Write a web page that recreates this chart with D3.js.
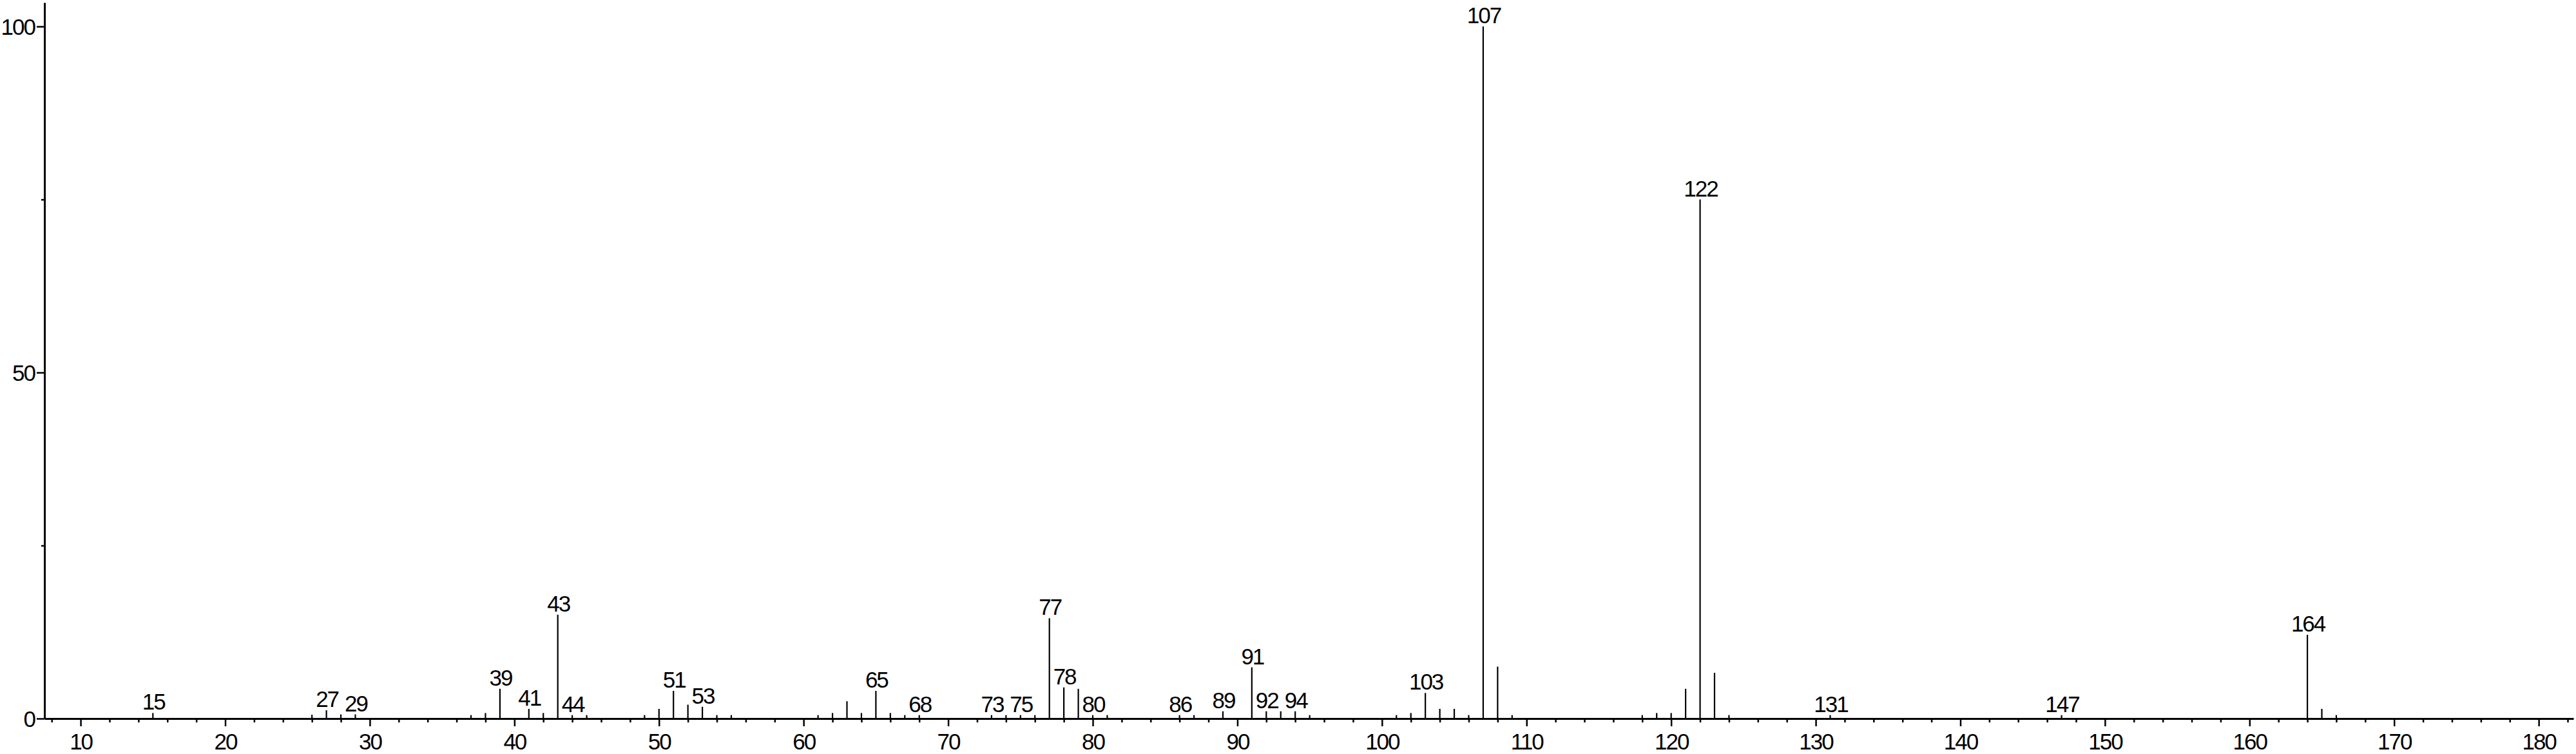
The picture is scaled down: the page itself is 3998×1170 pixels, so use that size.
<!DOCTYPE html>
<html>
<head>
<meta charset="utf-8">
<script src="https://cdn.jsdelivr.net/npm/d3@7"></script>
<style>
  body { margin: 0; background: #fff; }
  svg text { font-family: "Liberation Sans", Arial, sans-serif; font-size: 35px; letter-spacing: -2px; fill: #000; }
</style>
</head>
<body>
<script>
// m/z of each peak and its relative intensity (%)
const mz = [15, 26, 27, 28, 29, 37, 38, 39, 41, 42, 43, 44, 45, 49, 50, 51, 52, 53, 54, 55,
  61, 62, 63, 64, 65, 66, 67, 68, 73, 74, 75, 76, 77, 78, 79, 80, 81, 86, 87, 89,
  91, 92, 93, 94, 95, 101, 102, 103, 104, 105, 106, 107, 108, 109, 118, 119, 120, 121, 122, 123,
  124, 131, 147, 164, 165, 166];
const intensity = [0.8, 0.55, 1.2, 0.6, 0.6, 0.5, 0.8, 4.3, 1.4, 0.8, 15.0, 0.5, 0.5, 0.5, 1.4, 4.0, 2.0, 1.7, 0.5, 0.5,
  0.5, 0.8, 2.5, 0.8, 4.0, 0.8, 0.5, 0.5, 0.5, 0.5, 0.5, 0.5, 14.5, 4.5, 4.3, 0.5, 0.5, 0.5, 0.5, 1.05,
  7.4, 1.05, 1.05, 1.05, 0.5, 0.5, 0.8, 3.7, 1.4, 1.4, 0.5, 100, 7.5, 0.5, 0.5, 0.8, 0.8, 4.3, 75, 6.6,
  0.5, 0.5, 0.5, 12.1, 1.4, 0.5];
// peaks that carry a label
const labelled = [15, 27, 29, 39, 41, 43, 44, 51, 53, 65, 68, 73, 75, 77, 78, 80, 86, 89, 91, 92, 94,
  103, 107, 122, 131, 147, 164];

const xMajor = d3.range(10, 181, 10);
const xMinor = d3.range(8, 183, 2).filter(d => d % 10 !== 0);
const yMajor = [0, 50, 100];
const yMinor = [25, 75];

const width = 3998, height = 1170;

const peaks = mz.map((m, i) => ({ mz: m, val: intensity[i] }));

const x = d3.scaleLinear().domain([7.5, 182.4]).range([69, 3994]);
const y = d3.scaleLinear().domain([0, 103.45]).range([1115, 4]);

const svg = d3.select('body').append('svg')
  .attr('width', width)
  .attr('height', height);

// x axis: minor ticks first, then the major ones with labels
svg.append('g')
  .attr('transform', `translate(0,${y(0)})`)
  .call(d3.axisBottom(x).tickValues(xMinor).tickSize(6).tickSizeOuter(0).tickFormat(''))
  .call(g => g.select('.domain').remove())
  .call(g => g.selectAll('line').attr('stroke-width', 2.5));

svg.append('g')
  .attr('transform', `translate(0,${y(0)})`)
  .call(d3.axisBottom(x).tickValues(xMajor).tickSize(12).tickSizeOuter(0).tickPadding(11))
  .call(g => g.select('.domain').attr('stroke-width', 3))
  .call(g => g.selectAll('line').attr('stroke-width', 2.5))
  .call(g => g.selectAll('text').attr('font-size', null));

// y axis
svg.append('g')
  .attr('transform', `translate(${x.range()[0]},0)`)
  .call(d3.axisLeft(y).tickValues(yMinor).tickSize(5).tickSizeOuter(0).tickFormat(''))
  .call(g => g.select('.domain').remove())
  .call(g => g.selectAll('line').attr('stroke-width', 2.5));

svg.append('g')
  .attr('transform', `translate(${x.range()[0]},0)`)
  .call(d3.axisLeft(y).tickValues(yMajor).tickSize(12).tickSizeOuter(0).tickPadding(3))
  .call(g => g.select('.domain').attr('stroke-width', 3))
  .call(g => g.selectAll('line').attr('stroke-width', 2.5))
  .call(g => g.selectAll('text').attr('font-size', null).attr('dy', '0.36em'));

svg.selectAll('.tick text').attr('font-family', null);

// stick spectrum
svg.append('g')
  .selectAll('line')
  .data(peaks)
  .join('line')
  .attr('x1', d => x(d.mz))
  .attr('x2', d => x(d.mz))
  .attr('y1', y(0))
  .attr('y2', d => y(d.val))
  .attr('stroke', '#000')
  .attr('stroke-width', 2.2);

svg.append('g')
  .selectAll('text')
  .data(peaks.filter(d => labelled.includes(d.mz)))
  .join('text')
  .attr('x', d => x(d.mz) + 1)
  .attr('y', d => y(d.val) - 5)
  .attr('text-anchor', 'middle')
  .text(d => d.mz);
</script>
</body>
</html>
